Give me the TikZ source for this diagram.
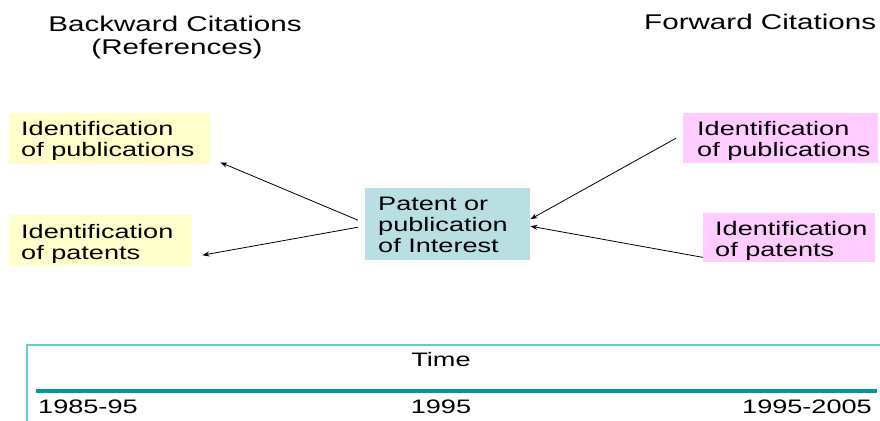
\documentclass[tikz,border=0pt]{standalone}
\usepackage{fontspec}
\setmainfont[FakeStretch=1.39]{Liberation Sans}
\usetikzlibrary{arrows.meta}
\definecolor{ybox}{HTML}{FFFFCC}
\definecolor{pbox}{HTML}{FFCCFF}
\definecolor{cbox}{HTML}{B9DFE2}
\definecolor{tline}{HTML}{009999}
\definecolor{tframe}{HTML}{66CCCC}
\begin{document}
\begin{tikzpicture}[x=1pt,y=-1pt,
  every node/.style={font=\fontsize{19.5}{20.7}\selectfont, inner sep=0pt},
  idbox/.style={anchor=north west, minimum height=51pt},
  lbl/.style={anchor=north west, align=left},
  hdr/.style={font=\fontsize{21.3}{23}\selectfont},
  arr/.style={draw=black, line width=0.8pt, -{Stealth[length=7pt,width=5pt]}}]
\useasboundingbox (0,0) rectangle (880,420);
% headers
\node[hdr, anchor=base] (bh) at (175,32) {Backward Citations};
\node[hdr, anchor=base] (bh2) at (177,55) {(References)};
\node[hdr, anchor=base west] (fh) at (644,30) {Forward Citations};
% left boxes
\node[idbox, fill=ybox, minimum width=201pt] (y1) at (9,113) {};
\node[lbl] (y1t) at ([xshift=12pt,yshift=-8.5pt]y1.north west) {Identification\\of publications};
\node[idbox, fill=ybox, minimum width=183pt] (y2) at (9,215) {};
\node[lbl] (y2t) at ([xshift=12pt,yshift=-9pt]y2.north west) {Identification\\of patents};
% center
\node[idbox, fill=cbox, minimum height=72pt, minimum width=165pt] (c) at (365,188) {};
\node[lbl] (ct) at ([xshift=13pt,yshift=-9pt]c.north west) {Patent or\\publication\\of Interest};
% right boxes
\node[idbox, fill=pbox, minimum width=195pt, minimum height=50pt] (p1) at (683,113) {};
\node[lbl] (p1t) at ([xshift=14pt,yshift=-8.5pt]p1.north west) {Identification\\of publications};
\node[idbox, fill=pbox, minimum width=172pt, minimum height=49pt] (p2) at (703,213) {};
\node[lbl] (p2t) at ([xshift=12pt,yshift=-8.5pt]p2.north west) {Identification\\of patents};
% arrows
\draw[arr] ([xshift=-7pt,yshift=4pt]c.west) -- ([xshift=10pt,yshift=2pt]y1.south east);
\draw[arr] ([xshift=-7pt,yshift=-3pt]c.west) -- ([xshift=10pt,yshift=-14.5pt]y2.east);
\draw[arr] ([xshift=-7pt]p1.west) -- ([yshift=5pt]c.east);
\draw[arr] ([yshift=5pt]p2.south west) -- ([yshift=-2pt]c.east);
% timeline
\draw[tframe, line width=1.2pt] (27,425) -- (27,345) -- (885,345);
\coordinate (tl) at (36,390.5);
\coordinate (tr) at (877,390.5);
\draw[tline, line width=4pt] (tl) -- (tr);
\node[anchor=base] (time) at (441,366) {Time};
\node[anchor=base west] (t1) at (38,413) {1985-95};
\node[anchor=base] (t2) at (441,413) {1995};
\node[anchor=base east] (t3) at (872,413) {1995-2005};
\end{tikzpicture}
\end{document}
